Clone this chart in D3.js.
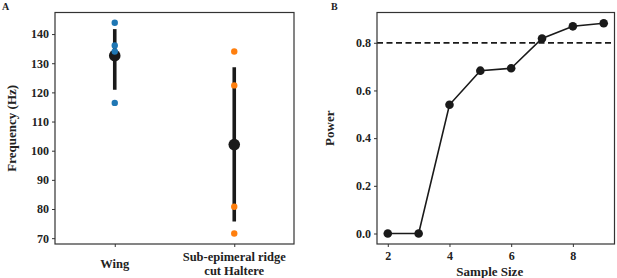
<!DOCTYPE html>
<html>
<head>
<meta charset="utf-8">
<script src="https://cdn.jsdelivr.net/npm/d3@7"></script>
<style>
  body { margin: 0; background: #fff; }
  text { font-family: "Liberation Serif", "Times New Roman", serif; font-weight: bold; fill: #222; }
</style>
</head>
<body>
<svg id="canvas"></svg>
<script>
// panel A: frequency by group
const groups = ["Wing", "Sub-epimeral ridge cut Haltere"];
const groupColors = ["#1f77b4", "#ff7f0e"];
const wingFreq = [143.9, 136.1, 134.0, 116.4];
const haltereFreq = [134.0, 122.4, 80.8, 71.6];
const groupMeans = [132.6, 102.1];
const groupErrLow = [120.9, 75.7];
const groupErrHigh = [141.7, 128.6];
const freqTicks = [70, 80, 90, 100, 110, 120, 130, 140];

// panel B: power curve
const sampleSize = [2, 3, 4, 5, 6, 7, 8, 9];
const power = [0, 0, 0.54, 0.683, 0.693, 0.818, 0.869, 0.882];
const powerTicks = [0.0, 0.2, 0.4, 0.6, 0.8];
const sizeTicks = [2, 4, 6, 8];
const threshold = 0.8;

const width = 617;
const height = 278;
const svg = d3.select("#canvas").attr("width", width).attr("height", height);

function frame(g, w, h) {
    g.append("rect")
        .attr("x", 0).attr("y", 0).attr("width", w).attr("height", h)
        .attr("fill", "none").attr("stroke", "#333").attr("stroke-width", 1.2);
}

function styleAxis(g, size) {
    g.select(".domain").remove();
    g.selectAll(".tick line").attr("stroke", "#333").attr("stroke-width", 1);
    g.selectAll(".tick text").style("font-size", size + "px")
        .style("font-family", "Liberation Serif").style("font-weight", "bold").attr("fill", "#222");
}

renderStrip();
renderPower();

function renderStrip() {
    const box = { x: 55, y: 12.5, w: 239, h: 231.5 };
    const g = svg.append("g").attr("transform", `translate(${box.x},${box.y})`);

    const xScale = d3.scaleLinear().domain([-0.5, 1.5]).range([0, box.w]);
    const yScale = d3.scaleLinear().domain([68.0, 147.4]).range([box.h, 0]);

    g.append("g").attr("transform", `translate(0,${box.h})`)
        .call(d3.axisBottom(xScale).tickValues([0, 1]).tickFormat("").tickSize(3).tickPadding(4))
        .call(a => styleAxis(a, 12));
    g.append("g")
        .call(d3.axisLeft(yScale).tickValues(freqTicks).tickSize(3).tickPadding(3))
        .call(a => styleAxis(a, 12));

    // category labels (second one wraps)
    const lab = g.append("g").attr("transform", `translate(0,${box.h})`);
    lab.append("text").attr("x", xScale(0)).attr("y", 24)
        .attr("text-anchor", "middle").style("font-size", "12.5px").text("Wing");
    const t = lab.append("text").attr("x", xScale(1)).attr("y", 17)
        .attr("text-anchor", "middle").style("font-size", "12.5px");
    t.append("tspan").attr("x", xScale(1)).text("Sub-epimeral ridge");
    t.append("tspan").attr("x", xScale(1)).attr("dy", 14).text("cut Haltere");

    const sets = [wingFreq, haltereFreq];
    sets.forEach((vals, i) => {
        g.append("line")
            .attr("x1", xScale(i)).attr("x2", xScale(i))
            .attr("y1", yScale(groupErrLow[i])).attr("y2", yScale(groupErrHigh[i]))
            .attr("stroke", "#1a1a1a").attr("stroke-width", 3.6);
        g.append("circle")
            .attr("cx", xScale(i)).attr("cy", yScale(groupMeans[i]))
            .attr("r", 5.8).attr("fill", "#1a1a1a");
    });
    // raw points sit on top of the mean/error bar
    sets.forEach((vals, i) => {
        g.selectAll(null).data(vals).join("circle")
            .attr("cx", xScale(i)).attr("cy", d => yScale(d))
            .attr("r", 3.2).attr("fill", groupColors[i]);
    });

    frame(g, box.w, box.h);

    svg.append("text")
        .attr("transform", `translate(16,${box.y + box.h / 2}) rotate(-90)`)
        .attr("text-anchor", "middle").style("font-size", "13px").text("Frequency (Hz)");
    svg.append("text").attr("x", 2).attr("y", 10).style("font-size", "10px").text("A");
}

function renderPower() {
    const box = { x: 377, y: 12.5, w: 237.5, h: 231.5 };
    const g = svg.append("g").attr("transform", `translate(${box.x},${box.y})`);

    const xScale = d3.scaleLinear().domain([1.65, 9.35]).range([0, box.w]);
    const yScale = d3.scaleLinear().domain([-0.044, 0.927]).range([box.h, 0]);

    g.append("g").attr("transform", `translate(0,${box.h})`)
        .call(d3.axisBottom(xScale).tickValues(sizeTicks).tickSize(3).tickPadding(4))
        .call(a => styleAxis(a, 12));
    g.append("g")
        .call(d3.axisLeft(yScale).tickValues(powerTicks).tickFormat(d3.format(".1f")).tickSize(3).tickPadding(3))
        .call(a => styleAxis(a, 12));

    g.append("line")
        .attr("x1", 0).attr("x2", box.w)
        .attr("y1", yScale(threshold)).attr("y2", yScale(threshold))
        .attr("stroke", "#1a1a1a").attr("stroke-width", 1.8).attr("stroke-dasharray", "6,3.5");

    const pts = sampleSize.map((s, i) => ({ s, p: power[i] }));
    g.append("path").datum(pts)
        .attr("d", d3.line().x(d => xScale(d.s)).y(d => yScale(d.p)))
        .attr("fill", "none").attr("stroke", "#1a1a1a").attr("stroke-width", 1.6);
    g.selectAll(null).data(pts).join("circle")
        .attr("cx", d => xScale(d.s)).attr("cy", d => yScale(d.p))
        .attr("r", 4.3).attr("fill", "#1a1a1a");

    frame(g, box.w, box.h);

    svg.append("text")
        .attr("transform", `translate(334,${box.y + box.h / 2}) rotate(-90)`)
        .attr("text-anchor", "middle").style("font-size", "13px").text("Power");
    svg.append("text")
        .attr("x", box.x + box.w / 2 - 6).attr("y", 276)
        .attr("text-anchor", "middle").style("font-size", "13px").text("Sample Size");
    svg.append("text").attr("x", 331).attr("y", 10).style("font-size", "10px").text("B");
}
</script>
</body>
</html>
